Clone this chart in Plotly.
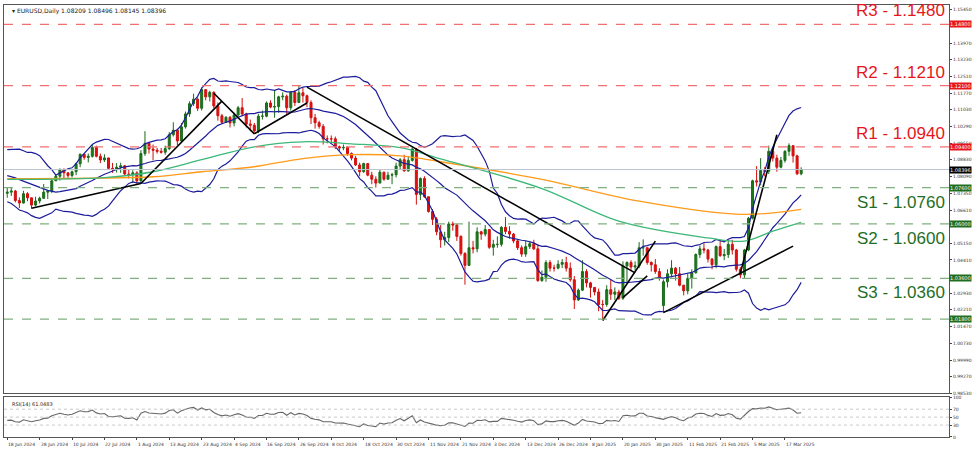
import numpy as np
import pandas as pd
import plotly.graph_objects as go

# ---------------- data ----------------
warmup_close = [1.0858,1.0855,1.0820,1.0815,1.0847,1.0858,1.0860,1.0800,1.0833,1.0848,1.0903,
                1.0877,1.0870,1.0890,1.0800,1.0765,1.0740,1.0810,1.0740,1.0700,1.0735]

close_jun = [1.0740,1.0745,1.0703,1.0692,1.0733,1.0715,1.0683,1.0701,1.0713]
high_jun = [1.0762,1.0760,1.0750,1.0717,1.0746,1.0740,1.0717,1.0720,1.0720]
low_jun = [1.0715,1.0723,1.0695,1.0670,1.0690,1.0700,1.0667,1.0677,1.0690]
close_jul = [1.0740,1.0744,1.0790,1.0810,1.0840,1.0825,1.0813,1.0830,1.0865,1.0907,1.0893,1.0898,1.0937,1.0898,1.0882,1.0891,1.0845,1.0840,1.0850,1.0856,1.0820,1.0817,1.0825]
high_jul = [1.0776,1.0750,1.0797,1.0816,1.0845,1.0845,1.0828,1.0835,1.0870,1.0910,1.0908,1.0910,1.0948,1.0945,1.0910,1.0907,1.0890,1.0869,1.0868,1.0870,1.0860,1.0838,1.0837]
low_jul = [1.0710,1.0710,1.0736,1.0791,1.0791,1.0802,1.0798,1.0805,1.0815,1.0850,1.0883,1.0871,1.0892,1.0893,1.0868,1.0873,1.0838,1.0825,1.0826,1.0825,1.0815,1.0800,1.0780]
close_aug = [1.0790,1.0910,1.0955,1.0930,1.0925,1.0920,1.0916,1.0932,1.0993,1.1013,1.0966,1.1028,1.1085,1.1130,1.1150,1.1110,1.1192,1.1160,1.1180,1.1120,1.1077,1.1048]
high_aug = [1.0832,1.0925,1.1009,1.0960,1.0950,1.0935,1.0935,1.0945,1.1005,1.1048,1.1020,1.1045,1.1095,1.1140,1.1174,1.1158,1.1202,1.1190,1.1187,1.1185,1.1135,1.1085]
low_aug = [1.0777,1.0780,1.0900,1.0910,1.0880,1.0910,1.0910,1.0905,1.0925,1.0985,1.0948,1.0960,1.1020,1.1072,1.1120,1.1098,1.1100,1.1145,1.1140,1.1110,1.1055,1.1040]
close_sep = [1.1070,1.1045,1.1080,1.1112,1.1085,1.1040,1.1035,1.1010,1.1075,1.1075,1.1133,1.1115,1.1117,1.1160,1.1163,1.1112,1.1180,1.1135,1.1178,1.1165,1.1135]
high_sep = [1.1075,1.1075,1.1090,1.1120,1.1155,1.1090,1.1060,1.1045,1.1085,1.1100,1.1140,1.1145,1.1190,1.1165,1.1180,1.1170,1.1185,1.1190,1.1210,1.1200,1.1170]
low_sep = [1.1045,1.1025,1.1030,1.1075,1.1075,1.1025,1.1010,1.1002,1.1000,1.1060,1.1070,1.1110,1.1068,1.1090,1.1145,1.1085,1.1100,1.1120,1.1135,1.1135,1.1115]
close_oct = [1.1068,1.1046,1.1030,1.0975,1.0975,1.0975,1.0940,1.0935,1.0937,1.0910,1.0890,1.0860,1.0830,1.0866,1.0815,1.0797,1.0780,1.0828,1.0797,1.0815,1.0817,1.0855,1.0883]
high_oct = [1.1145,1.1085,1.1055,1.1040,1.0990,1.0990,1.0985,1.0945,1.0950,1.0940,1.0915,1.0900,1.0870,1.0870,1.0865,1.0830,1.0810,1.0840,1.0830,1.0830,1.0825,1.0870,1.0890]
low_oct = [1.1040,1.1020,1.1020,1.0950,1.0955,1.0955,1.0930,1.0920,1.0925,1.0900,1.0880,1.0855,1.0810,1.0825,1.0810,1.0775,1.0760,1.0780,1.0790,1.0795,1.0775,1.0805,1.0840]
close_nov = [1.0834,1.0880,1.0930,1.0730,1.0800,1.0720,1.0655,1.0620,1.0565,1.0530,1.0540,1.0600,1.0595,1.0545,1.0470,1.0417,1.0495,1.0490,1.0565,1.0555,1.0575]
high_nov = [1.0905,1.0900,1.0937,1.0935,1.0805,1.0810,1.0720,1.0665,1.0630,1.0595,1.0565,1.0610,1.0610,1.0600,1.0550,1.0475,1.0610,1.0525,1.0585,1.0570,1.0595]
low_nov = [1.0830,1.0830,1.0875,1.0685,1.0705,1.0715,1.0650,1.0595,1.0550,1.0495,1.0505,1.0520,1.0570,1.0525,1.0460,1.0332,1.0425,1.0470,1.0475,1.0530,1.0545]
close_dec = [1.0497,1.0510,1.0510,1.0585,1.0567,1.0555,1.0525,1.0495,1.0467,1.0500,1.0513,1.0490,1.0350,1.0365,1.0430,1.0405,1.0405,1.0422,1.0430,1.0405,1.0354]
high_dec = [1.0575,1.0530,1.0545,1.0590,1.0630,1.0590,1.0560,1.0530,1.0505,1.0525,1.0525,1.0530,1.0510,1.0395,1.0440,1.0440,1.0420,1.0440,1.0445,1.0455,1.0430]
low_dec = [1.0490,1.0460,1.0495,1.0500,1.0555,1.0535,1.0515,1.0485,1.0455,1.0455,1.0490,1.0485,1.0345,1.0345,1.0345,1.0390,1.0390,1.0400,1.0405,1.0390,1.0345]
close_jan = [1.0265,1.0308,1.0390,1.0340,1.0320,1.0300,1.0245,1.0245,1.0310,1.0290,1.0300,1.0272,1.0415,1.0430,1.0410,1.0415,1.0495,1.0495,1.0430,1.0420,1.0390,1.0360]
high_jan = [1.0370,1.0315,1.0440,1.0400,1.0345,1.0320,1.0315,1.0265,1.0330,1.0355,1.0320,1.0310,1.0435,1.0435,1.0440,1.0435,1.0520,1.0532,1.0495,1.0435,1.0445,1.0405]
low_jan = [1.0225,1.0260,1.0305,1.0320,1.0275,1.0285,1.0215,1.0178,1.0235,1.0265,1.0265,1.0265,1.0265,1.0345,1.0395,1.0395,1.0405,1.0460,1.0420,1.0390,1.0380,1.0350]
close_feb = [1.0345,1.0380,1.0405,1.0380,1.0330,1.0305,1.0360,1.0385,1.0465,1.0490,1.0485,1.0445,1.0420,1.0500,1.0460,1.0465,1.0510,1.0485,1.0400,1.0375]
high_feb = [1.0355,1.0400,1.0440,1.0410,1.0410,1.0330,1.0380,1.0400,1.0470,1.0505,1.0515,1.0490,1.0450,1.0505,1.0530,1.0490,1.0530,1.0530,1.0490,1.0410]
low_feb = [1.0210,1.0320,1.0365,1.0350,1.0325,1.0285,1.0290,1.0315,1.0380,1.0450,1.0470,1.0430,1.0400,1.0405,1.0455,1.0440,1.0450,1.0465,1.0390,1.0360]
close_mar = [1.0485,1.0625,1.0790,1.0785,1.0835,1.0832,1.0920,1.0890,1.0850,1.0880,1.0920,1.0945,1.0900,1.0821,1.08396]
high_mar = [1.0490,1.0630,1.0795,1.0855,1.0890,1.0850,1.0945,1.0935,1.0905,1.0895,1.0925,1.0955,1.0915,1.0905,1.08496]
low_mar = [1.0360,1.0480,1.0620,1.0765,1.0770,1.0810,1.0820,1.0875,1.0830,1.0845,1.0870,1.0900,1.0870,1.0815,1.08145]
gap_opens = {"2025-02-03": 1.0240, "2025-03-21": 1.08209}

# moving averages (bar index, value)
ma_green_idx = [0, 24, 36, 48, 61, 73, 85, 97, 107, 132, 151, 173, 182, 189, 196]
ma_green_val = [1.0796, 1.0804, 1.0830, 1.0883, 1.0940, 1.0962, 1.0953, 1.0936, 1.0887, 1.0756, 1.0612, 1.0538, 1.0524, 1.0568, 1.0607]
ma_orange_idx = [0, 36, 48, 61, 73, 85, 97, 107, 132, 156, 181, 196]
ma_orange_val = [1.0800, 1.0808, 1.0830, 1.0852, 1.0888, 1.0905, 1.0900, 1.0874, 1.0796, 1.0700, 1.0642, 1.0664]

# trend lines: (start idx, start price, end idx, end price)
trend_lines = [(6, 1.0669, 33, 1.0778), (33, 1.0778, 53, 1.1141), (51, 1.1176, 61, 1.0997),
               (61, 1.0997, 74, 1.1133), (74, 1.1203, 155, 1.0384), (147, 1.0174, 160, 1.0524),
               (152, 1.0275, 158, 1.0371), (162, 1.0209, 194, 1.0502), (181, 1.0384, 190, 1.0993)]

levels_red = [("R3 - 1.1480", 1.1480, "1.14800"), ("R2 - 1.1210", 1.1210, "1.12100"), ("R1 - 1.0940", 1.0940, "1.09400")]
levels_green = [("S1 - 1.0760", 1.0760, "1.07600"), ("S2 - 1.0600", 1.0600, "1.06000"), ("S3 - 1.0360", 1.0360, "1.03600"), ("", 1.0180, "1.01800")]
price_ticks = [1.15450, 1.13970, 1.13230, 1.12510, 1.11770, 1.11030, 1.10290, 1.09550, 1.08830, 1.08090,
               1.07350, 1.06610, 1.05150, 1.04410, 1.02930, 1.02210, 1.01470, 1.00730, 0.99990, 0.99270, 0.98530]
rsi_ticks = [0, 30, 50, 70, 100]

# ---------------- build ----------------
closes = np.array(close_jun+close_jul+close_aug+close_sep+close_oct+close_nov+close_dec+close_jan+close_feb+close_mar)
highs = np.array(high_jun+high_jul+high_aug+high_sep+high_oct+high_nov+high_dec+high_jan+high_feb+high_mar)
lows = np.array(low_jun+low_jul+low_aug+low_sep+low_oct+low_nov+low_dec+low_jan+low_feb+low_mar)
dates = [d for d in pd.bdate_range("2024-06-18", "2025-03-21") if d.strftime("%Y-%m-%d") not in ("2024-12-25", "2025-01-01")]
assert len(dates) == len(closes) == len(highs) == len(lows), (len(dates), len(closes), len(highs), len(lows))
n = len(closes)
opens = np.concatenate([[warmup_close[-1]], closes[:-1]])
for i, d in enumerate(dates):
    k = d.strftime("%Y-%m-%d")
    if k in gap_opens:
        opens[i] = gap_opens[k]
highs = np.maximum(highs, np.maximum(opens, closes))
lows = np.minimum(lows, np.minimum(opens, closes))
idx = np.arange(n)

full = np.concatenate([warmup_close, closes])
s = pd.Series(full)
mid = s.rolling(20).mean()
sd = s.rolling(20).std(ddof=0)
w = len(warmup_close)
bb_mid = mid.values[w:]; bb_up = (mid + 2*sd).values[w:]; bb_lo = (mid - 2*sd).values[w:]

diff = np.diff(full)
gain = np.where(diff > 0, diff, 0); loss = np.where(diff < 0, -diff, 0)
ag = gain[:14].mean(); al = loss[:14].mean()
rsi_full = [np.nan]*15
for g, l in zip(gain[14:], loss[14:]):
    ag = (ag*13 + g)/14; al = (al*13 + l)/14
    rsi_full.append(100 - 100/(1 + ag/al) if al > 0 else 100)
rsi = np.array(rsi_full)[w:]

fig = go.Figure()
NAVY = "#1c1c9c"
for arr in (bb_up, bb_mid, bb_lo):
    fig.add_trace(go.Scatter(x=idx, y=arr, mode="lines", line=dict(color=NAVY, width=1.2), hoverinfo="skip", yaxis="y"))
fig.add_trace(go.Scatter(x=ma_orange_idx, y=ma_orange_val, mode="lines", line=dict(color="#ff9a1a", width=1.3, shape="spline"), yaxis="y"))
fig.add_trace(go.Scatter(x=ma_green_idx, y=ma_green_val, mode="lines", line=dict(color="#3cb878", width=1.3, shape="spline"), yaxis="y"))
fig.add_trace(go.Candlestick(x=idx, open=opens, high=highs, low=lows, close=closes, whiskerwidth=0,
                             increasing=dict(line=dict(color="#1a6b1a", width=1), fillcolor="#1a7a1a"),
                             decreasing=dict(line=dict(color="#d01010", width=1), fillcolor="#e01010"),
                             yaxis="y"))
for x0, y0, x1, y1 in trend_lines:
    fig.add_trace(go.Scatter(x=[x0, x1], y=[y0, y1], mode="lines", line=dict(color="black", width=1.6), yaxis="y"))
fig.add_trace(go.Scatter(x=idx, y=rsi, mode="lines", line=dict(color="#666666", width=1.1), xaxis="x2", yaxis="y2"))

shapes, ann = [], []
for txt, v, box in levels_red:
    shapes.append(dict(type="line", xref="paper", x0=0, x1=1, yref="y", y0=v, y1=v, line=dict(color="#f07070", width=1.2, dash="dash")))
    ann.append(dict(xref="paper", x=0.998, y=v, yref="y", text=txt, showarrow=False, xanchor="right", yanchor="bottom", yshift=2,
                    font=dict(family="Liberation Sans", size=17, color="#e8151b")))
    ann.append(dict(xref="paper", x=1.0, y=v, yref="y", text=box, showarrow=False, xanchor="left", bgcolor="#e8151b",
                    font=dict(family="DejaVu Sans", size=5, color="white"), borderpad=0))
for txt, v, box in levels_green:
    shapes.append(dict(type="line", xref="paper", x0=0, x1=1, yref="y", y0=v, y1=v, line=dict(color="#80b080", width=1.2, dash="dash")))
    if txt:
        ann.append(dict(xref="paper", x=0.998, y=v, yref="y", text=txt, showarrow=False, xanchor="right", yanchor="top", yshift=-3,
                        font=dict(family="Liberation Sans", size=17, color="#1f6e1f")))
    ann.append(dict(xref="paper", x=1.0, y=v, yref="y", text=box, showarrow=False, xanchor="left", bgcolor="#1f6e1f",
                    font=dict(family="DejaVu Sans", size=5, color="white"), borderpad=0))
last = closes[-1]
shapes.append(dict(type="line", xref="paper", x0=0, x1=1, yref="y", y0=last, y1=last, line=dict(color="#b8c4d0", width=1)))
ann.append(dict(xref="paper", x=1.0, y=last, yref="y", text=f"{last:.5f}", showarrow=False, xanchor="left", bgcolor="black",
                font=dict(family="DejaVu Sans", size=5, color="white"), borderpad=0))
for v in (30, 50, 70):
    shapes.append(dict(type="line", xref="x2 domain", x0=0, x1=1, yref="y2", y0=v, y1=v, line=dict(color="#bbbbbb", width=0.8, dash="dot")))
ann.append(dict(xref="paper", yref="paper", x=0.006, y=1.0, xanchor="left", yanchor="top", showarrow=False,
                text=f"▾ EURUSD,Daily {opens[-1]:.5f} {highs[-1]:.5f} {lows[-1]:.5f} {closes[-1]:.5f}",
                font=dict(family="DejaVu Sans", size=6, color="#222")))
ann.append(dict(xref="paper", yref="paper", x=0.006, y=0.088, xanchor="left", yanchor="top", showarrow=False,
                text=f"RSI(14) {rsi[-1]:.4f}", font=dict(family="DejaVu Sans", size=5, color="#222")))

tick_pos = idx[::8]
tick_txt = [f"{dates[i].day} {dates[i].strftime('%b %Y')}" for i in tick_pos]
for p, t in zip(tick_pos, tick_txt):
    ann.append(dict(xref="x2", yref="paper", x=p, y=0, yanchor="top", xanchor="left", yshift=-3, xshift=-1, showarrow=False,
                    text=t, font=dict(family="DejaVu Sans", size=4.5, color="#333")))

axis_common = dict(showgrid=False, zeroline=False, showline=True, linecolor="#555", mirror=True, linewidth=1)
fig.update_layout(
    width=975, height=452, margin=dict(l=3, r=24, t=3, b=15),
    paper_bgcolor="white", plot_bgcolor="white", showlegend=False,
    shapes=shapes, annotations=ann,
    xaxis=dict(domain=[0, 1], range=[-0.8, 232.5], anchor="y", showticklabels=False, rangeslider=dict(visible=False), ticks="", **axis_common),
    yaxis=dict(domain=[0.101, 1], range=[0.9853, 1.1565], side="right", tickvals=price_ticks, ticktext=[f"{v:.5f}" for v in price_ticks],
               tickfont=dict(family="DejaVu Sans", size=4.5, color="#333"), ticks="outside", ticklen=2, **axis_common),
    xaxis2=dict(domain=[0, 1], range=[-0.8, 232.5], anchor="y2", matches="x", tickvals=tick_pos, showticklabels=False,
                ticks="outside", ticklen=2, **axis_common),
    yaxis2=dict(domain=[0, 0.092], range=[0, 100], side="right", tickvals=rsi_ticks,
                tickfont=dict(family="DejaVu Sans", size=4.5, color="#333"), ticks="outside", ticklen=2, **axis_common),
)
fig.write_html("out.html", config={"displayModeBar": False},
               post_script="document.body.style.margin='0';document.body.style.overflow='hidden';")
